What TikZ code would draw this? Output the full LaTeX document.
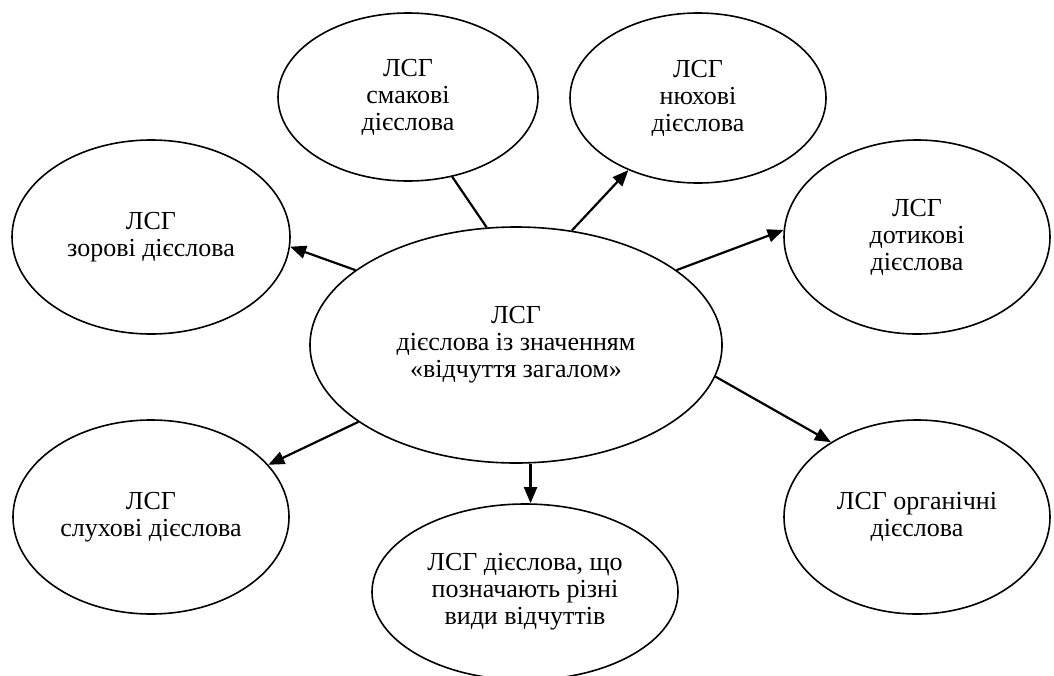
\documentclass[tikz,border=0pt]{standalone}
\usepackage{fontspec}
\setmainfont{Liberation Serif}
\usetikzlibrary{shapes.geometric,arrows.meta}
\tikzset{
	group/.style={draw, ellipse, line width=1.6pt, inner sep=0pt, align=center, font=\fontsize{26}{27}\selectfont},
	link/.style={line width=2.2pt},
	arr/.style={link, -{Triangle[length=16pt,width=13pt]}}
}

\begin{document}
\begin{tikzpicture}[x=1pt,y=-1pt]
		\useasboundingbox (0,0) rectangle (1054,675);
		% centre
		\node[group, minimum width=412pt, minimum height=236pt] (centre) at (516,345) {ЛСГ\\дієслова із значенням\\«відчуття загалом»};
		
		\node[group, minimum width=260pt, minimum height=168pt] (smak) at (408,97) {ЛСГ\\смакові\\дієслова};
		\node[group, minimum width=256pt, minimum height=170pt] (nyukh) at (698,98) {ЛСГ\\нюхові\\дієслова};
		\node[group, minimum width=278pt, minimum height=194pt] (zir) at (151,237) {ЛСГ\\зорові дієслова};
		\node[group, minimum width=266pt, minimum height=194pt] (dotyk) at (917,237) {ЛСГ\\дотикові\\дієслова};
		\node[group, minimum width=276pt, minimum height=194pt] (slukh) at (151,517) {ЛСГ\\слухові дієслова};
		\node[group, minimum width=266pt, minimum height=194pt] (organ) at (917,517) {ЛСГ органічні\\дієслова};
		\node[group, minimum width=306pt, minimum height=176pt] (vydy) at (525,592) {ЛСГ дієслова, що\\позначають різні\\види відчуттів};
		
		%\draw[arr] (centre) -- (smak);
		\draw[link] (centre.104) -- (smak.-61);
		\draw[arr] (centre.64) -- (nyukh.226);
		\draw[arr] (centre.155) -- (zir.-4);
		\draw[arr] (centre.25) -- (dotyk.177);
		\draw[arr] (centre.206) -- (slukh.24);
		\draw[arr] (centre.-9) -- (organ.139);
		\draw[arr] (centre.-83) -- (centre.-83 |- vydy.north);
	\end{tikzpicture}
\end{document}
